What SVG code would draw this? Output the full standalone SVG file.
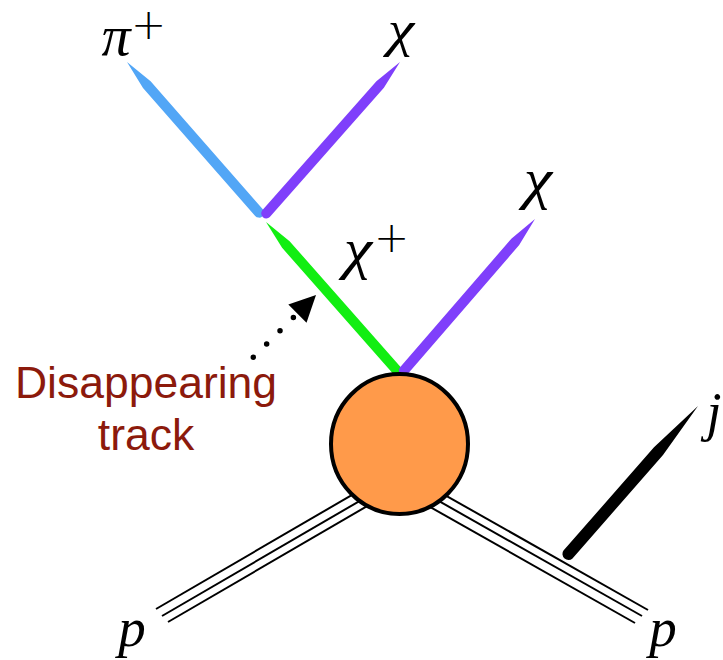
<svg xmlns="http://www.w3.org/2000/svg" width="723" height="660" viewBox="0 0 723 660">
<style>
.math{font-family:"Liberation Serif","Times New Roman",serif;font-style:italic;fill:#000;text-anchor:middle}
.sup{font-family:"DejaVu Sans",sans-serif;font-weight:200;font-size:42px;fill:#000;text-anchor:middle}
.beam{stroke:#000;stroke-width:2;fill:none}
.lbl{font-family:"Liberation Sans",Arial,sans-serif;font-size:44.5px;fill:#8c1a0c;text-anchor:middle}
</style>
<rect width="723" height="660" fill="#fff"/>
<g id="connectors">
  <g id="proton-left">
    <line class="beam" x1="156" y1="609" x2="390" y2="472.8"/>
    <line class="beam" x1="162" y1="616" x2="390" y2="483.3"/>
    <line class="beam" x1="168" y1="622" x2="390" y2="492.8"/>
  </g>
  <g id="proton-right">
    <line class="beam" x1="648" y1="610" x2="410" y2="475.3"/>
    <line class="beam" x1="642" y1="616" x2="410" y2="484.7"/>
    <line class="beam" x1="635" y1="623" x2="410" y2="495.6"/>
  </g>
  <path id="jet" d="M698,406 L654.0,447.2 L563.5,550.6 A6,6 0 0 0 572.5,558.4 L663.0,455.1 Z" fill="#000"/>
  <path id="pion" d="M127,62 L143.0,87.9 L255.2,215.9 A5,5 0 0 0 262.8,209.3 L150.6,81.3 Z" fill="#52a6f6"/>
  <path id="chi-upper" d="M400,62 L376.4,81.2 L262.3,210.3 A5,5 0 0 0 269.8,216.9 L383.9,87.8 Z" fill="#7f3ffb"/>
  <path id="chargino" d="M266,222 L282.1,247.8 L393.3,373.9 A5,5 0 0 0 400.8,367.3 L289.6,241.2 Z" fill="#12ee12"/>
  <path id="chi-lower" d="M535,219 L511.6,238.4 L400.1,367.3 A5,5 0 0 0 407.7,373.9 L519.2,245.0 Z" fill="#7f3ffb"/>
  <g id="pointer">
    <line x1="253.3" y1="357.3" x2="294" y2="317" stroke="#000" stroke-width="5.5" stroke-linecap="round" stroke-dasharray="0 18.8"/>
    <polygon points="316,295 288.3,304.5 306.5,322.7" fill="#000"/>
  </g>
</g>
<g id="blob">
  <ellipse cx="399.5" cy="444" rx="68.5" ry="70" fill="#ff9a4a" stroke="#000" stroke-width="4"/>
</g>
<g id="labels">
  <g id="label-pi"><text class="math" x="116" y="55" font-size="58">π</text><text class="sup" x="148.5" y="38.5">+</text></g>
  <g id="label-chi-top"><text class="math" x="401" y="46" font-size="50" transform="translate(401 0) scale(1.2 1) translate(-401 0)">χ</text></g>
  <g id="label-chi-plus"><text class="math" x="358" y="268" font-size="56" transform="translate(358 0) scale(1.15 1) translate(-358 0)">χ</text><text class="sup" x="391.5" y="251.5">+</text></g>
  <g id="label-chi-right"><text class="math" x="538" y="198" font-size="56" transform="translate(538 0) scale(1.15 1) translate(-538 0)">χ</text></g>
  <g id="label-j"><text class="math" x="714" y="430" font-size="54">j</text></g>
  <g id="label-p-left"><text class="math" x="132" y="646" font-size="55">p</text></g>
  <g id="label-p-right"><text class="math" x="663" y="646" font-size="55">p</text></g>
  <g id="label-track"><text class="lbl" x="146" y="398">Disappearing</text><text class="lbl" x="146" y="450">track</text></g>
</g>
</svg>
